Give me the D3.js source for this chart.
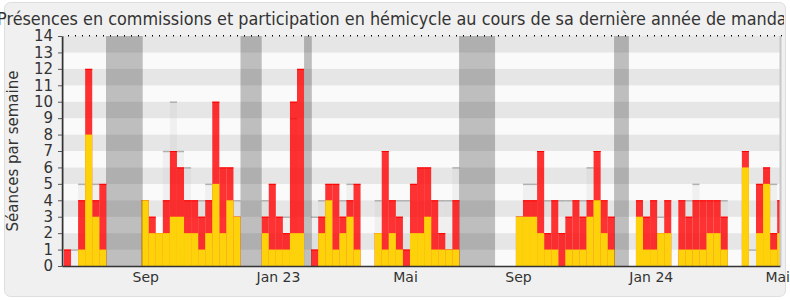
<!DOCTYPE html>
<html>
<head>
<meta charset="utf-8">
<script src="https://cdn.jsdelivr.net/npm/d3@7"></script>
<style>
  body { margin: 0; background: #fff; }
  svg text { font-family: "DejaVu Sans", sans-serif; fill: #333; }
</style>
</head>
<body>
<div id="viz"></div>
<script>
// one value per week, week 0 = first week of the window
const presences = [1,0,4,12,4,5,0,0,0,0,0,4,3,2,4,7,6,4,4,3,4,10,6,6,3,0,0,0,3,5,3,2,10,12,0,1,3,5,5,3,4,5,0,0,2,7,4,3,1,5,6,6,4,2,1,4,0,0,0,0,0,0,0,0,3,4,4,7,2,4,2,3,4,3,4,7,4,3,0,0,0,4,3,4,2,4,0,4,3,4,4,4,4,3,0,0,7,0,5,6,2,4];
const hemicycle = [0,0,1,8,3,1,0,0,0,0,0,4,2,2,2,3,3,2,2,1,2,5,2,4,3,0,0,0,2,1,1,1,2,2,0,0,2,4,1,2,3,1,0,0,2,1,2,1,0,2,2,3,1,1,1,1,0,0,0,0,0,0,0,0,3,3,3,2,1,1,0,1,1,1,3,4,2,1,0,0,0,3,1,1,2,2,0,1,1,1,1,2,2,1,0,0,6,0,2,5,1,2];
const mediane = [null,1,5,null,5,null,null,null,null,null,null,null,null,null,7,10,7,6,null,4,5,null,null,null,4,null,null,null,4,null,null,3,9,null,null,3,4,null,null,4,5,null,null,null,4,null,null,4,4,null,null,null,null,4,4,6,null,null,null,null,null,null,null,null,3,5,5,null,4,null,4,4,null,4,6,null,null,null,null,null,null,null,null,null,3,null,null,null,4,5,null,null,null,4,null,null,null,1,null,null,5,null];
// vacances parlementaires, [début, fin] en semaines
const vacances = [[-0.3, 0], [5.95, 11.15], [25, 28], [34, 35.1], [55.95, 61.05], [77.9, 80]];
const tickWeeks = [11.5, 30.3, 48.3, 64.3, 83.1, 101];
const tickLabels = ['Sep', 'Jan 23', 'Mai', 'Sep', 'Jan 24', 'Mai'];

let width = 790,
    height = 300,
    plot = { left: 62, right: 780, top: 36, bottom: 266 };

let svg = d3.select('#viz').append('svg')
  .attr('width', width)
  .attr('height', height);

svg.append('rect')
  .attr('x', 4.5).attr('y', 2.5)
  .attr('width', 781).attr('height', 294)
  .attr('rx', 6)
  .attr('fill', '#f0f0f0')
  .attr('stroke', '#dedede');

let xScale = d3.scaleLinear()
  .domain([-0.28, 101.4])
  .range([plot.left, plot.right]);

let yScale = d3.scaleLinear()
  .domain([0, 14])
  .range([plot.bottom, plot.top]);

svg.append('clipPath').attr('id', 'plotclip')
  .append('rect')
  .attr('x', plot.left).attr('y', plot.top)
  .attr('width', plot.right - plot.left).attr('height', plot.bottom - plot.top);

let chart = svg.append('g').attr('clip-path', 'url(#plotclip)');

// alternating stripes
chart.selectAll('rect.stripe').data(d3.range(14))
  .enter().append('rect')
  .attr('x', plot.left)
  .attr('width', plot.right - plot.left)
  .attr('y', function(d) { return yScale(d + 1); })
  .attr('height', function(d) { return yScale(d) - yScale(d + 1); })
  .attr('fill', function(d) { return d % 2 ? '#e6e6e6' : '#fafafa'; });

let weeks = d3.range(presences.length);

// median of all deputies
let med = weeks.filter(function(i) { return mediane[i] != null; });
chart.selectAll('rect.med').data(med)
  .enter().append('rect')
  .attr('x', function(i) { return xScale(i); })
  .attr('width', function(i) { return xScale(i + 1) - xScale(i); })
  .attr('y', function(i) { return yScale(mediane[i]); })
  .attr('height', function(i) { return yScale(0) - yScale(mediane[i]); })
  .attr('fill', 'rgba(170,170,170,0.12)');

chart.selectAll('line.med').data(med)
  .enter().append('line')
  .attr('x1', function(i) { return xScale(i); })
  .attr('x2', function(i) { return xScale(i + 1); })
  .attr('y1', function(i) { return yScale(mediane[i]) + 0.5; })
  .attr('y2', function(i) { return yScale(mediane[i]) + 0.5; })
  .attr('stroke', '#b0b0b0')
  .attr('stroke-width', 1.5);

// presences (red) then hemicycle (yellow)
let pres = weeks.filter(function(i) { return presences[i] > 0; });
chart.selectAll('rect.pres').data(pres)
  .enter().append('rect')
  .attr('x', function(i) { return xScale(i); })
  .attr('width', function(i) { return xScale(i + 1) - xScale(i); })
  .attr('y', function(i) { return yScale(presences[i]); })
  .attr('height', function(i) { return yScale(0) - yScale(presences[i]); })
  .attr('fill', 'rgba(255,0,0,0.8)');

chart.selectAll('line.pres').data(pres)
  .enter().append('line')
  .attr('x1', function(i) { return xScale(i); })
  .attr('x2', function(i) { return xScale(i + 1); })
  .attr('y1', function(i) { return yScale(presences[i]) + 0.5; })
  .attr('y2', function(i) { return yScale(presences[i]) + 0.5; })
  .attr('stroke', '#ff0000');

chart.selectAll('rect.hemi').data(weeks.filter(function(i) { return hemicycle[i] > 0; }))
  .enter().append('rect')
  .attr('x', function(i) { return xScale(i); })
  .attr('width', function(i) { return xScale(i + 1) - xScale(i); })
  .attr('y', function(i) { return yScale(hemicycle[i]); })
  .attr('height', function(i) { return yScale(0) - yScale(hemicycle[i]); })
  .attr('fill', '#fdd20a');

chart.selectAll('rect.vac').data(vacances)
  .enter().append('rect')
  .attr('x', function(d) { return xScale(d[0]); })
  .attr('width', function(d) { return xScale(d[1]) - xScale(d[0]); })
  .attr('y', plot.top)
  .attr('height', plot.bottom - plot.top)
  .attr('fill', 'rgba(0,0,0,0.24)');

// dotted top line, one dot per week
svg.append('g').selectAll('rect').data(weeks)
  .enter().append('rect')
  .attr('x', function(i) { return Math.round(xScale(i + 0.5)); })
  .attr('y', plot.top - 1)
  .attr('width', 1).attr('height', 1.5)
  .attr('fill', '#000');

svg.append('line')
  .attr('x1', plot.right + 0.5).attr('x2', plot.right + 0.5)
  .attr('y1', plot.top).attr('y2', plot.bottom)
  .attr('stroke', '#c8c8c8').attr('stroke-width', 2);

// axes
let yGuide = svg.append('g')
  .attr('transform', 'translate(' + plot.left + ',0)')
  .call(d3.axisLeft(yScale).ticks(14).tickSize(4).tickPadding(5).tickSizeOuter(0));
yGuide.select('.domain').attr('stroke', '#333').attr('stroke-width', 1.5);
yGuide.selectAll('line').attr('stroke', '#555');
yGuide.selectAll('text').attr('font-size', 15).style('fill', '#333');

let xGuide = svg.append('g')
  .attr('transform', 'translate(0,' + plot.bottom + ')')
  .call(d3.axisBottom(xScale).tickValues(tickWeeks)
    .tickFormat(function(d, i) { return tickLabels[i]; })
    .tickSize(0).tickPadding(6).tickSizeOuter(0));
xGuide.select('.domain').attr('stroke', '#333').attr('stroke-width', 1.5);
xGuide.selectAll('text').attr('font-size', 14).style('fill', '#333');

svg.append('text')
  .attr('transform', 'translate(18,' + ((plot.top + plot.bottom) / 2) + ') rotate(-90)')
  .attr('text-anchor', 'middle')
  .attr('font-size', 15)
  .text('Séances par semaine');

svg.append('clipPath').attr('id', 'titleclip')
  .append('rect').attr('x', 0).attr('y', 0).attr('width', 784).attr('height', 34);

svg.append('text')
  .attr('clip-path', 'url(#titleclip)')
  .attr('x', -3)
  .attr('y', 25)
  .attr('font-size', 17)
  .attr('textLength', 796)
  .attr('lengthAdjust', 'spacingAndGlyphs')
  .text('Présences en commissions et participation en hémicycle au cours de sa dernière année de mandat');
</script>
</body>
</html>
